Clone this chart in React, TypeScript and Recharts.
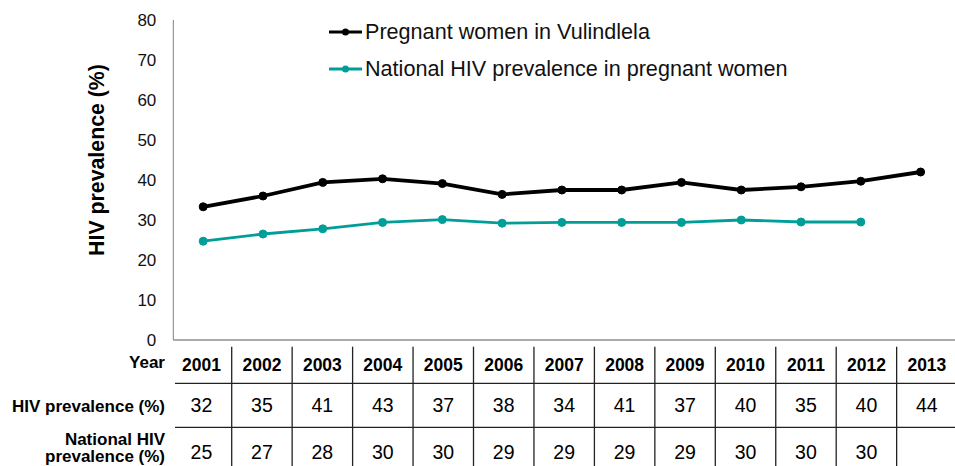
import React from "react";
import { LineChart, Line, XAxis, YAxis } from "recharts";

const years = ["2001","2002","2003","2004","2005","2006","2007","2008","2009","2010","2011","2012","2013"];
const vulindlela = [33.3, 36, 39.4, 40.3, 39.1, 36.4, 37.5, 37.5, 39.4, 37.5, 38.3, 39.7, 42];
const national: (number | null)[] = [24.7, 26.5, 27.8, 29.4, 30.1, 29.2, 29.4, 29.4, 29.4, 30, 29.5, 29.5, null];
const tableHiv = ["32","35","41","43","37","38","34","41","37","40","35","40","44"];
const tableNational = ["25","27","28","30","30","29","29","29","29","30","30","30",""];
const yTicks = [0, 10, 20, 30, 40, 50, 60, 70, 80];

const seriesNames = ["Pregnant women in Vulindlela", "National HIV prevalence in pregnant women"];
const colors = ["#000000", "#009E99"];

const data = years.map((y, i) => ({ year: y, v: vulindlela[i], n: national[i] }));

const FONT = "'Liberation Sans', Arial, sans-serif";
const W = 955;
const H = 466;

const LegendBox = () => (
  <div style={{ position: "absolute", left: 329, top: 13, fontFamily: FONT }}>
    {seriesNames.map((name, i) => (
      <div key={name} style={{ display: "flex", alignItems: "center", height: 37.6 }}>
        <svg width={34} height={12} style={{ marginRight: 2 }}>
          <line x1={0} y1={6} x2={33} y2={6} stroke={colors[i]} strokeWidth={3} />
          <circle cx={16.5} cy={6} r={3.5} fill={colors[i]} />
        </svg>
        <span style={{ fontSize: 21.6, color: "#111", whiteSpace: "nowrap" }}>{name}</span>
      </div>
    ))}
  </div>
);

const Table = () => {
  const x0 = 171.25;
  const colW = 60.45;
  const lineTop = 346.7;
  return (
    <svg width={W} height={H} style={{ position: "absolute", left: 0, top: 0, pointerEvents: "none" }}>
      <text
        x={97}
        y={160}
        transform="rotate(-90 97 160)"
        textAnchor="middle"
        dominantBaseline="central"
        fontFamily={FONT}
        fontWeight="bold"
        fontSize={21.3}
        fill="#000"
      >
        HIV prevalence (%)
      </text>
      <g fontFamily={FONT} fill="#000">
        <text x={165} y={362.7} textAnchor="end" dominantBaseline="central" fontWeight="bold" fontSize={17}>Year</text>
        <text x={165} y={406} textAnchor="end" dominantBaseline="central" fontWeight="bold" fontSize={17}>HIV prevalence (%)</text>
        <text x={165} y={439.3} textAnchor="end" dominantBaseline="central" fontWeight="bold" fontSize={17}>National HIV</text>
        <text x={165} y={456.5} textAnchor="end" dominantBaseline="central" fontWeight="bold" fontSize={17}>prevalence (%)</text>
      </g>
      <line x1={175} y1={383.3} x2={955} y2={383.3} stroke="#222" strokeWidth={1.3} />
      <line x1={175} y1={427.3} x2={955} y2={427.3} stroke="#222" strokeWidth={1.3} />
      {years.map((y, i) => {
        const cx = x0 + colW * (i + 0.5);
        return (
          <g key={y} fontFamily={FONT} fill="#000">
            {i > 0 && (
              <line x1={x0 + colW * i} y1={lineTop} x2={x0 + colW * i} y2={H} stroke="#222" strokeWidth={1.3} />
            )}
            <text x={cx} y={365} textAnchor="middle" dominantBaseline="central" fontWeight="bold" fontSize={17.5}>{y}</text>
            <text x={cx} y={405} textAnchor="middle" dominantBaseline="central" fontSize={19.5}>{tableHiv[i]}</text>
            <text x={cx} y={451.7} textAnchor="middle" dominantBaseline="central" fontSize={19.5}>{tableNational[i]}</text>
          </g>
        );
      })}
    </svg>
  );
};

export default function App() {
  return (
    <div style={{ position: "absolute", left: 0, top: 0, width: W, height: H, background: "#fff", overflow: "hidden" }}>
      <LineChart width={W} height={H} data={data} margin={{ top: 20, right: 0, bottom: 96, left: 0 }}>
        <XAxis
          dataKey="year"
          scale="band"
          padding={{ left: 0, right: 4.5 }}
          height={30}
          tick={false}
          tickLine={false}
          axisLine={{ stroke: "#555", strokeWidth: 1 }}
        />
        <YAxis
          width={173.3}
          domain={[0, 80]}
          ticks={yTicks}
          interval={0}
          tickLine={false}
          tickSize={6}
          tickMargin={11}
          axisLine={{ stroke: "#808080", strokeWidth: 1 }}
          tick={{ fontSize: 17, fill: "#111", fontFamily: FONT }}
        />
        <Line
          dataKey="v"
          name={seriesNames[0]}
          stroke={colors[0]}
          strokeWidth={3.8}
          dot={{ r: 4, fill: colors[0], stroke: colors[0], strokeWidth: 1 }}
          isAnimationActive={false}
        />
        <Line
          dataKey="n"
          name={seriesNames[1]}
          stroke={colors[1]}
          strokeWidth={2.8}
          dot={{ r: 4, fill: colors[1], stroke: colors[1], strokeWidth: 1 }}
          isAnimationActive={false}
        />
      </LineChart>
      <LegendBox />
      <Table />
    </div>
  );
}
